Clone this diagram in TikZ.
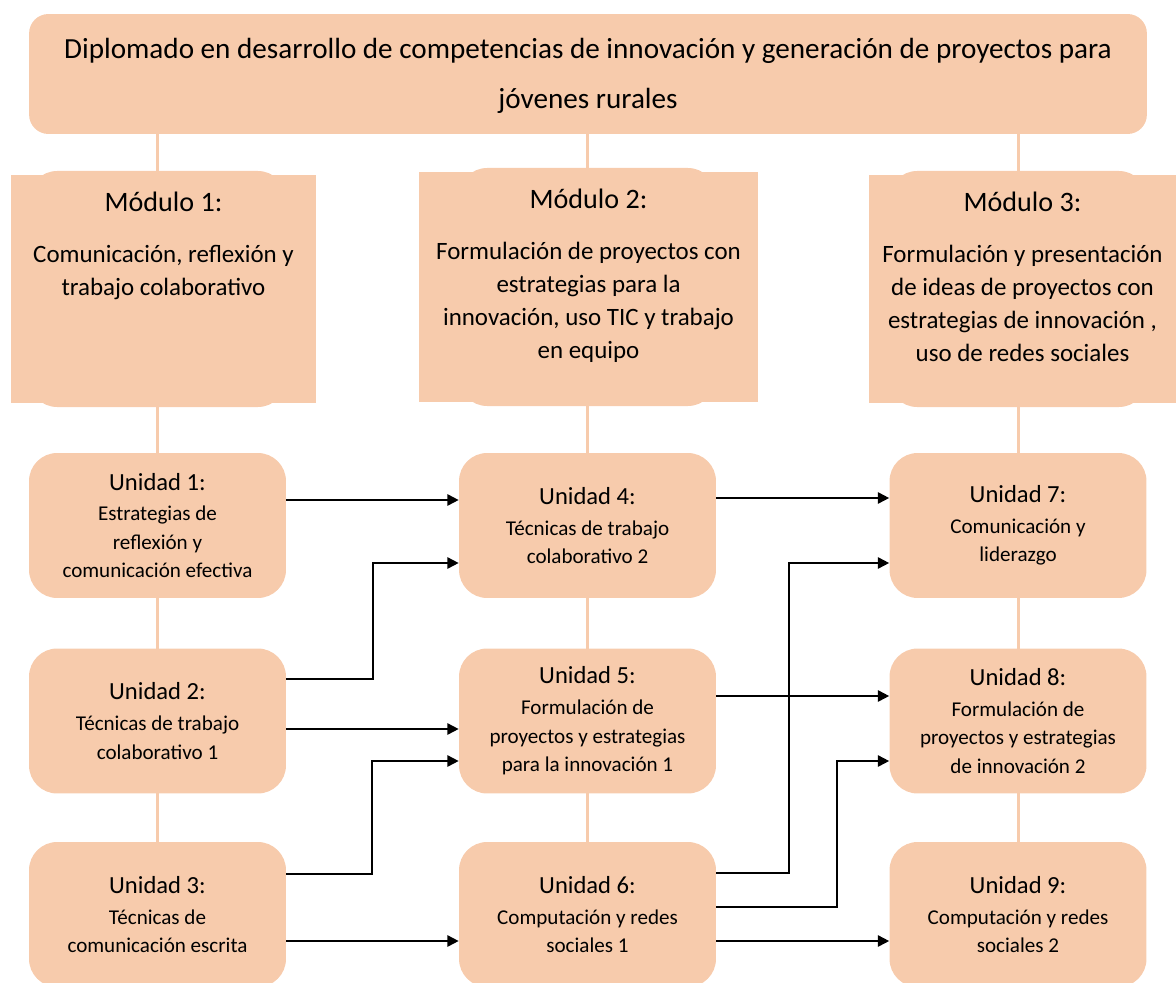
\documentclass[tikz,border=0pt]{standalone}
\usepackage{fontspec}
\setmainfont{Carlito}
\usetikzlibrary{positioning,arrows.meta}
\definecolor{peach}{HTML}{F7CBAC}
\pgfdeclarelayer{background}
\pgfsetlayers{background,main}

\newcommand{\modtitle}{\fontsize{16}{19}\selectfont}
\newcommand{\unittitle}{\fontsize{14}{16}\selectfont}

\tikzset{
	topbox/.style={fill=peach, rounded corners=11pt, minimum width=22.36cm, minimum height=2.4cm, align=center, inner sep=0pt, font=\fontsize{16.6}{28.3}\selectfont},
	modbox/.style={fill=peach, inner sep=0pt},
	modtext/.style={align=center, inner sep=0pt, font=\fontsize{14.2}{18.9}\selectfont},
	unit/.style={fill=peach, rounded corners=16pt, minimum width=5.14cm, minimum height=2.9cm, align=center, inner sep=0pt, font=\fontsize{12}{16.2}\selectfont},
	stem/.style={peach, line width=1.7pt},
	arr/.style={-{Triangle[length=6.5pt,width=6.5pt]}, line width=1pt}
}

\begin{document}
\begin{tikzpicture}[x=0.02cm, y=-0.02cm]
	\useasboundingbox (0,0) rectangle (1176,983);

	\node[topbox] (diplo) at (588,74) {\rule{0pt}{14pt}Diplomado en desarrollo de competencias de innovación y generación de proyectos para\\ jóvenes rurales};

	% modulos
	\fill[peach, rounded corners=16pt] (29,171) rectangle (286,407);
	\fill[peach, rounded corners=16pt] (459,168) rectangle (716,406);
	\fill[peach, rounded corners=16pt] (889,171) rectangle (1147,407);
	\node[modbox, minimum width=6.1cm, minimum height=4.56cm] (m1) at (163.5,289) {};
	\node[modbox, minimum width=6.78cm, minimum height=4.6cm] (m2) at (588.5,287) {};
	\node[modbox, minimum width=6.14cm, minimum height=4.56cm] (m3) at (1022.5,289) {};
	\node[modtext, below=9.5pt of m1.north] (m1t) {{\modtitle Módulo 1:}\\[10pt] Comunicación, reflexión y\\ trabajo colaborativo};
	\node[modtext, below=9.5pt of m2.north] (m2t) {{\modtitle Módulo 2:}\\[10pt] Formulación de proyectos con\\ estrategias para la\\ innovación, uso TIC y trabajo\\ en equipo};
	\node[modtext, below=9.5pt of m3.north] (m3t) {{\modtitle Módulo 3:}\\[10pt] Formulación y presentación\\ de ideas de proyectos con\\ estrategias de innovación ,\\ uso de redes sociales};

	% unidades
	\node[unit] (u1) at (157.5,525.5) {{\unittitle Unidad 1:}\\[1.4pt] Estrategias de\\ reflexión y\\ comunicación efectiva};
	\node[unit] (u2) at (157.5,721) {{\unittitle Unidad 2:}\\[1.4pt] Técnicas de trabajo\\ colaborativo 1};
	\node[unit] (u3) at (157.5,914.5) {{\unittitle Unidad 3:}\\[1.4pt] Técnicas de\\ comunicación escrita};
	\node[unit] (u4) at (587.5,525.5) {{\unittitle Unidad 4:}\\[1.4pt] Técnicas de trabajo\\ colaborativo 2};
	\node[unit] (u5) at (587.5,721) {{\unittitle Unidad 5:}\\[1.4pt] Formulación de\\ proyectos y estrategias\\ para la innovación 1};
	\node[unit] (u6) at (587.5,914.5) {{\unittitle Unidad 6:}\\[1.4pt] Computación y redes\\ sociales 1};
	\node[unit] (u7) at (1018,525.5) {{\unittitle Unidad 7:}\\[1.4pt] Comunicación y\\ liderazgo};
	\node[unit] (u8) at (1018,721) {{\unittitle Unidad 8:}\\[1.4pt] Formulación de\\ proyectos y estrategias\\ de innovación 2};
	\node[unit] (u9) at (1018,914.5) {{\unittitle Unidad 9:}\\[1.4pt] Computación y redes\\ sociales 2};

	\begin{pgfonlayer}{background}
		\draw[stem] (diplo.south -| u1) -- (u3.north);
		\draw[stem] (diplo.south -| u4) -- (u6.north);
		\draw[stem] (diplo.south -| u7) -- (u9.north);
	\end{pgfonlayer}

	% flechas
	\draw[arr] (u1.east |- 0,500) -- (u4.west |- 0,500);
	\draw[arr] (u2.east |- 0,679) -- (373,679) |- (u4.west |- 0,563);
	\draw[arr] (u2.east |- 0,729) -- (u5.west |- 0,729);
	\draw[arr] (u3.east |- 0,874) -- (372,874) |- (u5.west |- 0,761);
	\draw[arr] (u3.east |- 0,941) -- (u6.west |- 0,941);
	\draw[arr] (u4.east |- 0,498) -- (u7.west |- 0,498);
	\draw[arr] (u5.east |- 0,696) -- (u8.west |- 0,696);
	\draw[arr] (u6.east |- 0,873) -- (789,873) |- (u7.west |- 0,563);
	\draw[arr] (u6.east |- 0,907) -- (837,907) |- (u8.west |- 0,761);
	\draw[arr] (u6.east |- 0,941) -- (u9.west |- 0,941);
\end{tikzpicture}
\end{document}
